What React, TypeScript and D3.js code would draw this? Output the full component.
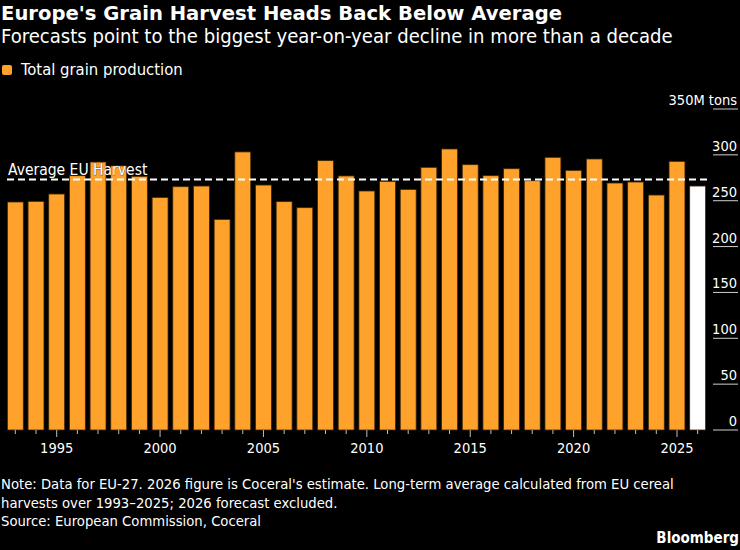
import { useMemo } from 'react';
import * as d3 from 'd3';

const years = d3.range(1993, 2027).map(String);
const production = [
  248.6, 249.3, 257.3, 277.3, 292.2, 288.0, 276.6, 253.6, 265.3, 266.0,
  229.6, 303.2, 267.1, 249.0, 242.4, 293.7, 277.0, 260.6, 271.1, 262.3,
  286.4, 306.4, 289.3, 277.3, 284.9, 271.8, 297.3, 283.1, 295.5, 269.3,
  270.4, 256.2, 292.9, 266.0,
];
const forecastYear = '2026';
const yTicks = [0, 50, 100, 150, 200, 250, 300, 350];
const labelYears = ['1995', '2000', '2005', '2010', '2015', '2020', '2025'];
const noteLines = [
  "Note: Data for EU-27. 2026 figure is Coceral's estimate. Long-term average calculated from EU cereal",
  'harvests over 1993–2025; 2026 forecast excluded.',
  'Source: European Commission, Coceral',
];

const W = 740;
const H = 550;
const ORANGE = '#ffa22b';
const FONT = '"DejaVu Sans Condensed", "DejaVu Sans", sans-serif';

export default function App() {
  const x = useMemo(
    () => d3.scaleBand<string>().domain(years).range([5, 708]).paddingInner(0.23).paddingOuter(0.115),
    []
  );
  const y = useMemo(() => d3.scaleLinear().domain([0, 350]).range([430, 109]), []);

  // long-term average excludes the forecast year
  const avg = d3.mean(production.filter((_, i) => years[i] !== forecastYear)) as number;
  const avgY = y(avg);

  return (
    <svg
      width={W}
      height={H}
      style={{ position: 'absolute', left: 0, top: 0, background: '#000' }}
      fontFamily={FONT}
    >
      <rect width={W} height={H} fill="#000" />

      {/* header */}
      <text x={1} y={20} fill="#fff" fontSize={19.6} fontWeight="bold" fontFamily='"DejaVu Sans", sans-serif'>
        Europe's Grain Harvest Heads Back Below Average
      </text>
      <text x={1} y={43} fill="#fff" fontSize={20.1}>
        Forecasts point to the biggest year-on-year decline in more than a decade
      </text>

      {/* legend */}
      <rect x={2} y={65} width={10} height={10} rx={2} fill={ORANGE} />
      <text x={21} y={75} fill="#fff" fontSize={16.5}>
        Total grain production
      </text>

      {/* right axis */}
      <g fontSize={14.5} fill="#fff" textAnchor="end">
        {yTicks.map((t) => (
          <g key={t}>
            <line x1={713} x2={738} y1={y(t)} y2={y(t)} stroke="#cfcfcf" strokeWidth={1} />
            <text x={737} y={y(t) - 4}>
              {t === 350 ? '350M tons' : t}
            </text>
          </g>
        ))}
      </g>

      {/* bars */}
      {years.map((yr, i) => (
        <rect
          key={yr}
          x={x(yr)}
          y={y(production[i])}
          width={x.bandwidth()}
          height={y(0) - y(production[i])}
          fill={yr === forecastYear ? '#fff' : ORANGE}
          stroke="#3d2706"
          strokeWidth={0.8}
        />
      ))}

      {/* x axis */}
      <g>
        {years.map((yr) => {
          const cx = (x(yr) as number) + x.bandwidth() / 2;
          const major = +yr % 5 === 0;
          return (
            <line
              key={yr}
              x1={cx}
              x2={cx}
              y1={430}
              y2={major ? 437 : 434}
              stroke="#bdbdbd"
              strokeWidth={1}
            />
          );
        })}
        {labelYears.map((yr) => (
          <text
            key={yr}
            x={(x(yr) as number) + x.bandwidth() / 2}
            y={453}
            fill="#fff"
            fontSize={14.5}
            textAnchor="middle"
          >
            {yr}
          </text>
        ))}
      </g>

      {/* average line */}
      <line
        x1={7}
        x2={707}
        y1={avgY}
        y2={avgY}
        stroke="#fff"
        strokeWidth={2}
        strokeDasharray="7,4"
      />
      <text
        x={8}
        y={avgY - 5}
        fill="#fff"
        fontSize={15.5}
        stroke="#000"
        strokeWidth={0.4}
        paintOrder="stroke"
      >
        Average EU Harvest
      </text>

      {/* notes */}
      <g fill="#fff" fontSize={14.7}>
        {noteLines.map((line, i) => (
          <text key={i} x={1} y={489 + i * 18.5}>
            {line}
          </text>
        ))}
      </g>
      <text x={739} y={543} fill="#fff" fontSize={15} fontWeight="bold" textAnchor="end">
        Bloomberg
      </text>
    </svg>
  );
}
